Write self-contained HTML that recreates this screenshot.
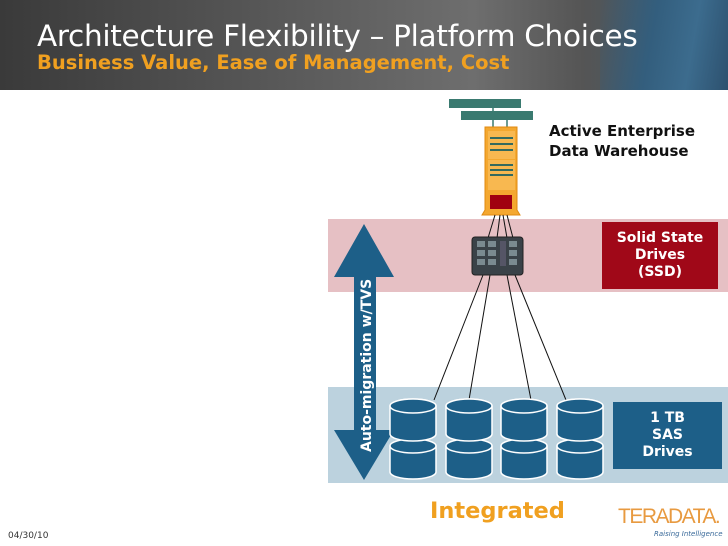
<!DOCTYPE html>
<html><head><style>
body{margin:0;width:728px;height:546px;overflow:hidden;background:#fff;font-family:"DejaVu Sans","Liberation Sans",sans-serif;position:relative}
.abs{position:absolute;white-space:nowrap}
</style></head><body>
<div class="abs" style="left:0;top:0;width:728px;height:90px;background:linear-gradient(90deg,#3a3a3a 0%,#5a5a5a 40%,#6e6e6e 65%,#555 80%,#3c5a70 100%)"></div>
<div class="abs" style="left:600px;top:0;width:128px;height:90px;background:linear-gradient(100deg,rgba(0,0,0,0) 0%,#2f5f82 40%,#3b6f94 70%,#2a4f6e 100%);opacity:.85"></div>
<div class="abs" style="left:37px;top:19px;color:#fff;font-size:29.5px;font-family:'DejaVu Sans',sans-serif;letter-spacing:-0.3px">Architecture Flexibility – Platform Choices</div>
<div class="abs" style="left:37px;top:51px;color:#f0a020;font-size:19.5px;font-weight:bold">Business Value, Ease of Management, Cost</div>

<div class="abs" style="left:328px;top:219px;width:400px;height:73px;background:#e6c0c4"></div>
<div class="abs" style="left:328px;top:387px;width:400px;height:96px;background:#bcd2de"></div>

<svg class="abs" style="left:0;top:0" width="728" height="546">
<polygon points="364,224 394,277 376,277 376,430 394,430 364,480 334,430 354,430 354,277 334,277" fill="#1d5f88"/>
<text transform="translate(371,452) rotate(-90)" fill="#fff" font-size="14" font-weight="bold" font-family="DejaVu Sans,sans-serif">Auto-migration w/TVS</text>
<rect x="449" y="99" width="72" height="9" fill="#3a7a70"/>
<rect x="461" y="111" width="72" height="9" fill="#3a7a70"/>
<line x1="493" y1="108" x2="493" y2="128" stroke="#3a7a70" stroke-width="1.5"/>
<line x1="507" y1="120" x2="507" y2="128" stroke="#3a7a70" stroke-width="1.5"/>
<polygon points="485,127 517,127 517,210 520,215 482,215 485,210" fill="#f4a830" stroke="#e08a10"/>
<rect x="488" y="131" width="27" height="28" fill="#f8b850"/>
<rect x="488" y="160" width="27" height="30" fill="#f8b850"/>
<g stroke="#356a5e" stroke-width="2"><line x1="490" y1="138" x2="513" y2="138"/><line x1="490" y1="144" x2="513" y2="144"/><line x1="490" y1="150" x2="513" y2="150"/><line x1="490" y1="165" x2="513" y2="165"/><line x1="490" y1="170" x2="513" y2="170"/><line x1="490" y1="175" x2="513" y2="175"/></g>
<rect x="490" y="195" width="22" height="14" fill="#a00010"/>
<g stroke="#111" stroke-width="1"><line x1="495" y1="215" x2="488" y2="238"/><line x1="500" y1="215" x2="497" y2="238"/><line x1="503" y1="215" x2="507" y2="238"/><line x1="507" y1="215" x2="513" y2="238"/>
<line x1="483" y1="275" x2="434" y2="400"/><line x1="490" y1="275" x2="469" y2="400"/><line x1="507" y1="275" x2="531" y2="400"/><line x1="515" y1="275" x2="566" y2="400"/></g>
<rect x="472" y="237" width="51" height="38" rx="3" fill="#3a4248" stroke="#222"/>
<g fill="#7a8a90"><rect x="477" y="241" width="8" height="6"/><rect x="477" y="250" width="8" height="6"/><rect x="477" y="259" width="8" height="6"/><rect x="488" y="241" width="8" height="6"/><rect x="488" y="250" width="8" height="6"/><rect x="488" y="259" width="8" height="6"/><rect x="500" y="241" width="6" height="25" fill="#556"/><rect x="509" y="241" width="8" height="6"/><rect x="509" y="250" width="8" height="6"/><rect x="509" y="259" width="8" height="6"/></g>
<g fill="#1d5f88" stroke="#fff" stroke-width="1.5">
<g id="c"><path d="M390,446 v26 a23,7 0 0 0 46,0 v-26 a23,7 0 0 0 -46,0z"/><ellipse cx="413" cy="446" rx="23" ry="7"/><path d="M390,406 v28 a23,7 0 0 0 46,0 v-28 a23,7 0 0 0 -46,0z"/><ellipse cx="413" cy="406" rx="23" ry="7"/></g>
<use href="#c" x="56"/><use href="#c" x="111"/><use href="#c" x="167"/>
</g>
</svg>

<div class="abs" style="left:549px;top:121px;font-size:15px;font-weight:bold;line-height:20px;color:#111">Active Enterprise<br>Data Warehouse</div>
<div class="abs" style="left:602px;top:222px;width:116px;height:67px;background:#a00818;color:#fff;font-size:14px;font-weight:bold;text-align:center;line-height:17px;padding-top:8px;box-sizing:border-box">Solid State<br>Drives<br>(SSD)</div>
<div class="abs" style="left:613px;top:402px;width:109px;height:67px;background:#1d5f88;color:#fff;font-size:14px;font-weight:bold;text-align:center;line-height:17px;padding-top:8px;box-sizing:border-box">1 TB<br>SAS<br>Drives</div>
<div class="abs" style="left:430px;top:498px;color:#f0a020;font-size:22.5px;font-weight:bold">Integrated</div>
<div class="abs" style="left:618px;top:505px;color:#e89a40;font-size:21px;font-family:'Liberation Sans',sans-serif;letter-spacing:-1.5px">TERADATA.</div>
<div class="abs" style="left:654px;top:530px;color:#3a6a9a;font-size:7px;font-style:italic">Raising Intelligence</div>
<div class="abs" style="left:8px;top:531px;color:#333;font-size:9px">04/30/10</div>
</body></html>
